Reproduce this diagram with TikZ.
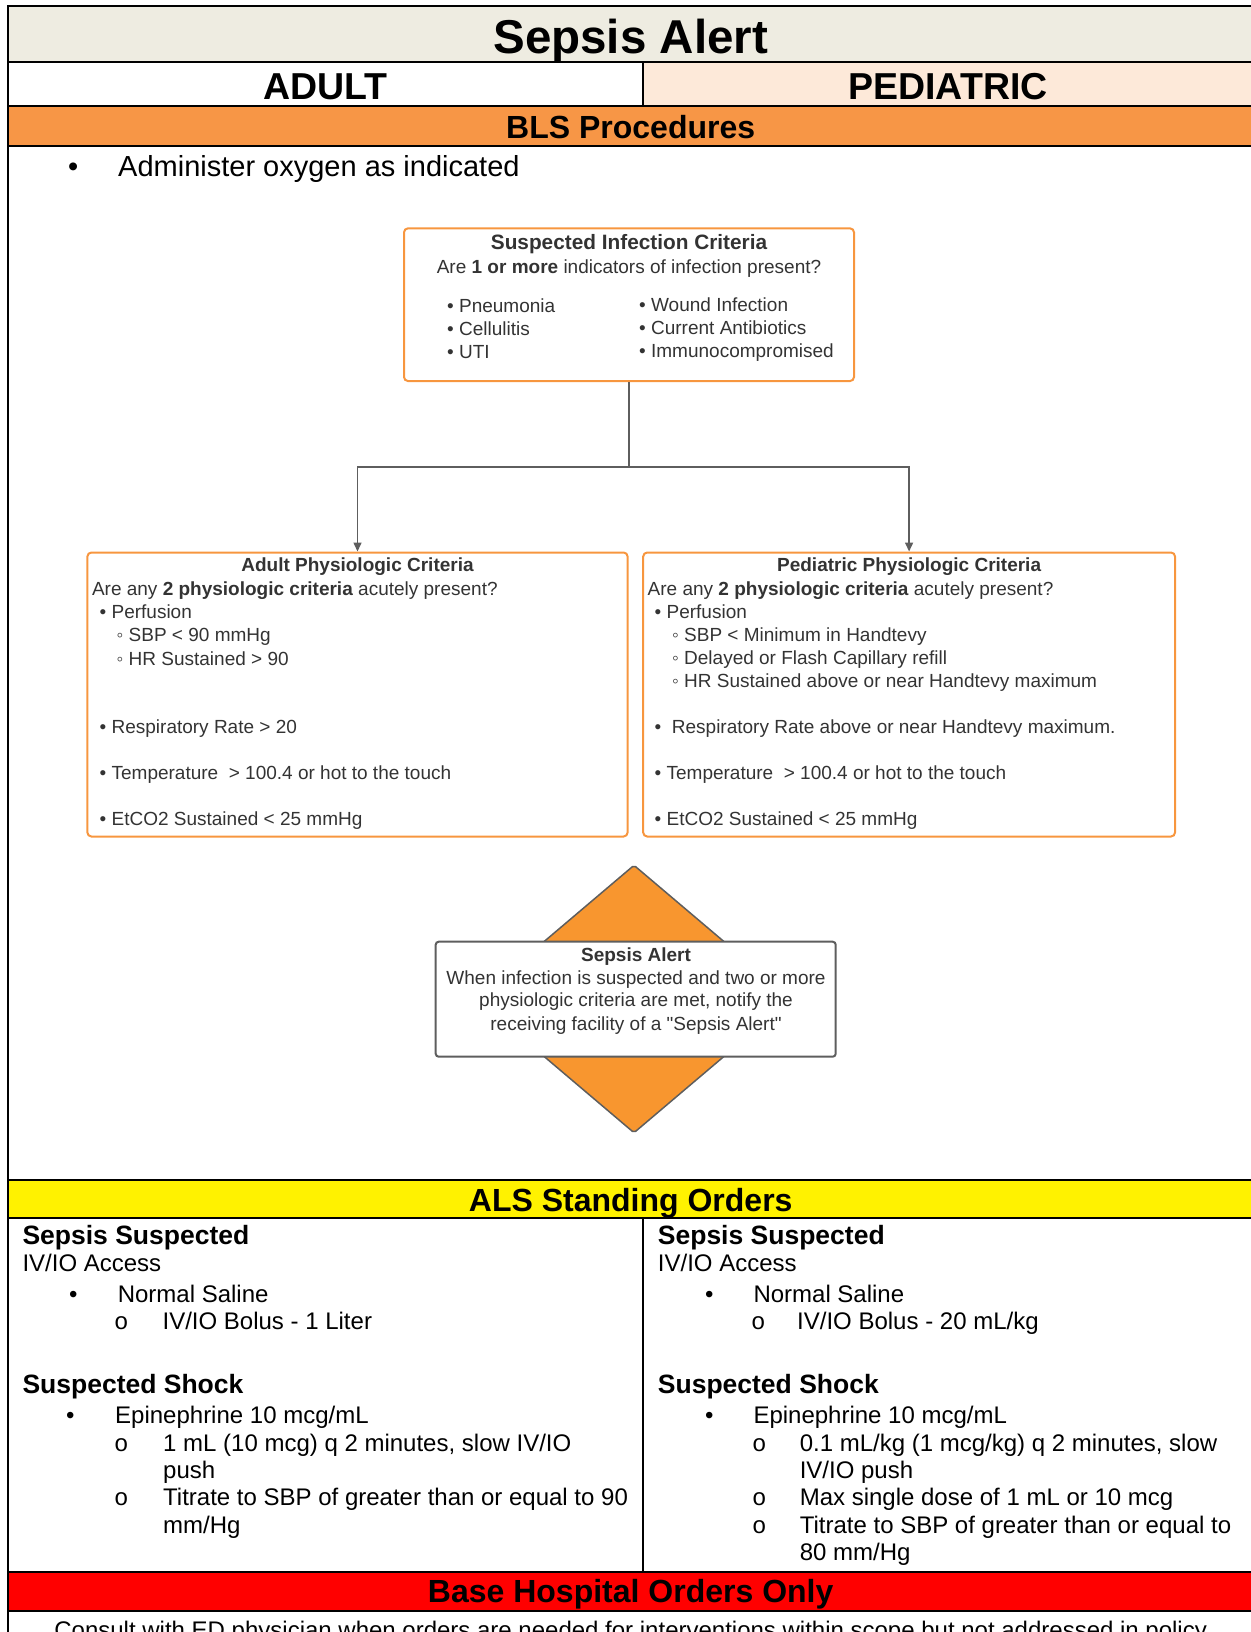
\documentclass[tikz,border=0pt]{standalone}
\usepackage{fontspec}
\setmainfont{Liberation Sans}
\newfontfamily\monofont{Liberation Mono}
\newfontfamily\qfont{Liberation Sans}
\usetikzlibrary{arrows.meta,shapes.geometric}
\definecolor{tanbg}{HTML}{EEECE1}
\definecolor{peach}{HTML}{FDE9D9}
\definecolor{blsorange}{HTML}{F79646}
\definecolor{lucidorange}{HTML}{F7963F}
\definecolor{diaorange}{HTML}{F8962F}
\definecolor{lucidgray}{HTML}{5E5E5E}
\definecolor{lucidtext}{HTML}{333333}

\begin{document}
\begin{tikzpicture}[x=1pt,y=-1pt,
 every node/.style={inner sep=0pt},
 rule/.style={line width=2pt},
 hd/.style={anchor=base,font=\fontsize{37.5}{44}\selectfont\bfseries},
 band/.style={anchor=base,font=\fontsize{32}{38}\selectfont\bfseries},
 sec/.style={anchor=base west,font=\fontsize{26.5}{32}\selectfont\bfseries},
 txt/.style={anchor=base west,font=\fontsize{24}{28}\selectfont},
 sub/.style={anchor=base west,font=\fontsize{24}{28}\selectfont\monofont},
 lbox/.style={draw=lucidorange,line width=2pt,rounded corners=4pt},
 lt/.style={anchor=base west,text=lucidtext,font=\fontsize{19}{23}\selectfont},
 lc/.style={lt,anchor=base},
 lh/.style={lc,font=\fontsize{19}{23}\selectfont\bfseries},
 flow/.style={draw=lucidgray,line width=1.5pt,-{Triangle[length=9pt,width=8pt]}}]
\useasboundingbox (0,0) rectangle (1250,1632);
\fill[tanbg] (8.3,6.5) rectangle (1256,62.3);
\fill[peach] (643,62.3) rectangle (1256,106.5);
\fill[blsorange] (8.3,106.5) rectangle (1256,146);
\fill[yellow] (8.3,1179.5) rectangle (1256,1218);
\fill[red] (8.3,1572) rectangle (1256,1610.5);
\draw[rule] (8.3,5.5) -- (8.3,1640);
\draw[rule] (8.3,6.5) -- (1256,6.5);
\draw[rule] (8.3,62.3) -- (1256,62.3);
\draw[rule] (8.3,106.5) -- (1256,106.5);
\draw[rule] (8.3,146) -- (1256,146);
\draw[rule] (8.3,1179.5) -- (1256,1179.5);
\draw[rule] (8.3,1218) -- (1256,1218);
\draw[rule] (8.3,1572) -- (1256,1572);
\draw[rule] (8.3,1610.5) -- (1256,1610.5);
\draw[rule] (643,62.3) -- (643,106.5);
\draw[rule] (643,1218) -- (643,1572);

\node[anchor=base,font=\fontsize{47.5}{57}\selectfont\bfseries] (title) at (630.7,54) {Sepsis Alert};
\node[hd] (adulthd) at (325.6,99.5) {ADULT};
\node[hd] (pedhd) at (948,99.5) {PEDIATRIC};
\node[band] (blshd) at (630.7,138.5) {BLS Procedures};
\node[anchor=base west,font=\fontsize{29}{34}\selectfont] (o2dot) at (68,177) {•};
\node[anchor=base west,font=\fontsize{29}{34}\selectfont] (o2txt) at (118,177) {Administer oxygen as indicated};

\node[lbox,minimum width=450,minimum height=152.7] (inf) at (629,304.7) {};
\node[lc,font=\fontsize{20.8}{25}\selectfont\bfseries] (inftitle) at (629,249.3) {Suspected Infection Criteria};
\node[lc] (infq) at (629,273.3) {Are \textbf{1 or more} indicators of infection present?};
\node[lt] (pneu) at (447,312) {• Pneumonia};
\node[lt] (cell) at (447,335) {• Cellulitis};
\node[lt] (uti) at (447,358) {• UTI};
\node[lt] (wound) at (639,311.5) {• Wound Infection};
\node[lt] (abx) at (639,334.5) {• Current Antibiotics};
\node[lt] (immuno) at (639,357.5) {• Immunocompromised};

\node[lbox,minimum width=540.2,minimum height=284] (adult) at (357.5,694.5) {};
\node[lh] (adulttitle) at (357.5,571.7) {Adult Physiologic Criteria};
\node[lt] (adultq) at (91.8,595) {Are any \textbf{2 physiologic criteria} acutely present?};
\node[lt] (aperf) at (99.5,618.3) {• Perfusion};
\node[lt] (asbp) at (116.5,641.7) {◦ SBP < 90 mmHg};
\node[lt] (ahr) at (116.5,665) {◦ HR Sustained > 90};
\node[lt] (arr) at (99.5,733.3) {• Respiratory Rate > 20};
\node[lt] (atemp) at (99.5,779.3) {• Temperature\ \ > 100.4 or hot to the touch};
\node[lt] (aetco) at (99.5,825) {• EtCO2 Sustained < 25 mmHg};

\node[lbox,minimum width=531.8,minimum height=284] (ped) at (909.1,694.5) {};
\node[lh] (pedtitle) at (909.1,571.7) {Pediatric Physiologic Criteria};
\node[lt] (pedq) at (647.5,595) {Are any \textbf{2 physiologic criteria} acutely present?};
\node[lt] (pperf) at (654.5,618.3) {• Perfusion};
\node[lt] (psbp) at (672,641.7) {◦ SBP < Minimum in Handtevy};
\node[lt] (pcap) at (672,664.5) {◦ Delayed or Flash Capillary refill};
\node[lt] (phr) at (672,687.7) {◦ HR Sustained above or near Handtevy maximum};
\node[lt] (prr) at (654.5,733.3) {•\ \ Respiratory Rate above or near Handtevy maximum.};
\node[lt] (ptemp) at (654.5,779.3) {• Temperature\ \ > 100.4 or hot to the touch};
\node[lt] (petco) at (654.5,825) {• EtCO2 Sustained < 25 mmHg};

\draw[flow] (inf.south) -- ++(0,85) -| (adult.north);
\draw[flow] (inf.south) -- ++(0,85) -| (ped.north);

\node[diamond,fill=diaorange,draw=lucidgray,line width=1.5pt,rounded corners=2pt,minimum width=316,minimum height=268] (dia) at (634,999) {};
\node[draw=lucidgray,fill=white,line width=2pt,rounded corners=3pt,minimum width=400,minimum height=115] (alert) at (635.7,999.2) {};
\node[lh] (alerttitle) at (636,961) {Sepsis Alert};
\node[lc] (alert1) at (636,984.3) {When infection is suspected and two or more};
\node[lc] (alert2) at (636,1006.7) {physiologic criteria are met, notify the};
\node[lc] (alert3) at (636,1030) {receiving facility of a {\qfont"}Sepsis Alert{\qfont"}};

\node[band] (alshd) at (630.7,1211.5) {ALS Standing Orders};
\node[sec] (asepsis) at (22.3,1244.2) {Sepsis Suspected};
\node[txt] (aaccess) at (22.3,1271.5) {IV/IO Access};
\node[txt] (ansdot) at (69,1302.2) {•};
\node[txt] (ans) at (117.6,1302.2) {Normal Saline};
\node[sub] (abolusdot) at (114,1329.2) {o};
\node[txt] (abolus) at (162.4,1329.2) {IV/IO Bolus - 1 Liter};
\node[sec] (ashock) at (22.3,1393.8) {Suspected Shock};
\node[txt] (aepidot) at (66,1423) {•};
\node[txt] (aepi) at (115,1423) {Epinephrine 10 mcg/mL};
\node[sub] (adosedot) at (114,1451) {o};
\node[txt] (adose) at (163,1451) {1 mL (10 mcg) q 2 minutes, slow IV/IO};
\node[txt] (adose2) at (163,1478.5) {push};
\node[sub] (atitdot) at (114,1505.5) {o};
\node[txt] (atit) at (163,1505.5) {Titrate to SBP of greater than or equal to 90};
\node[txt] (atit2) at (163,1533.2) {mm/Hg};

\node[sec] (psepsis) at (657.7,1244.2) {Sepsis Suspected};
\node[txt] (paccess) at (657.7,1271.5) {IV/IO Access};
\node[txt] (pnsdot) at (705,1302.2) {•};
\node[txt] (pns) at (753.3,1302.2) {Normal Saline};
\node[sub] (pbolusdot) at (751,1329.2) {o};
\node[txt] (pbolus) at (797,1329.2) {IV/IO Bolus - 20 mL/kg};
\node[sec] (pshock) at (657.7,1393.8) {Suspected Shock};
\node[txt] (pepidot) at (705,1423) {•};
\node[txt] (pepi) at (753.3,1423) {Epinephrine 10 mcg/mL};
\node[sub] (pdosedot) at (752,1451) {o};
\node[txt] (pdose) at (799.6,1451) {0.1 mL/kg (1 mcg/kg) q 2 minutes, slow};
\node[txt] (pdose2) at (799.6,1478.5) {IV/IO push};
\node[sub] (pmaxdot) at (752,1505.5) {o};
\node[txt] (pmax) at (799.6,1505.5) {Max single dose of 1 mL or 10 mcg};
\node[sub] (ptitdot) at (752,1533.2) {o};
\node[txt] (ptit) at (799.6,1533.2) {Titrate to SBP of greater than or equal to};
\node[txt] (ptit2) at (799.6,1560.5) {80 mm/Hg};

\node[band] (basehd) at (630.7,1602.5) {Base Hospital Orders Only};
\node[txt,anchor=base] (consult) at (630.7,1638) {Consult with ED physician when orders are needed for interventions within scope but not addressed in policy};
\end{tikzpicture}
\end{document}
